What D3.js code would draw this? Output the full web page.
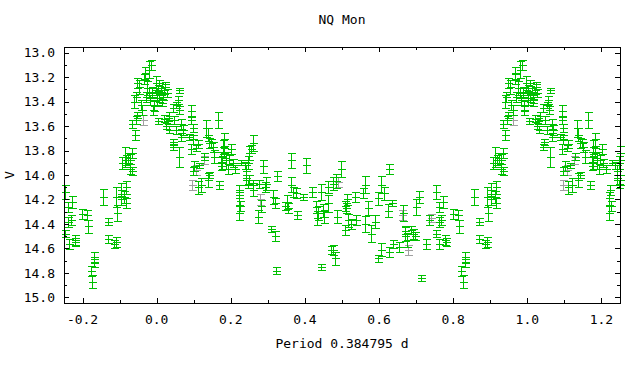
<!DOCTYPE html>
<html>
<head>
<meta charset="utf-8">
<script src="https://cdn.jsdelivr.net/npm/d3@7/dist/d3.min.js"></script>
<style>
  body { margin: 0; background: #fff; }
  text { font-family: "DejaVu Sans Mono", "Liberation Mono", monospace; font-size: 13px; fill: #000; }
</style>
</head>
<body>
<div class="lightcurve"></div>
<script>

// phase (0..1), V magnitude, error -- green series
var phase = [
  0.003, 0.007, 0.012, 0.016, 0.021, 0.023, 0.007, 0.014, 0.027, 0.061, 0.057, 0.052, 0.059, 0.043, 0.034,
  0.030, 0.025, 0.032, 0.021, 0.048, 0.066, 0.070, 0.052, 0.066, 0.045, 0.043, 0.061, 0.093, 0.093, 0.097,
  0.088, 0.097, 0.111, 0.093, 0.106, 0.102, 0.097, 0.115, 0.111, 0.120, 0.138, 0.142, 0.129, 0.133, 0.138,
  0.142, 0.165, 0.151, 0.156, 0.147, 0.169, 0.178, 0.183, 0.174, 0.174, 0.176, 0.183, 0.187, 0.196, 0.192,
  0.201, 0.205, 0.212, 0.228, 0.241, 0.246, 0.250, 0.255, 0.259, 0.241, 0.246, 0.250, 0.237, 0.223, 0.221,
  0.225, 0.221, 0.259, 0.259, 0.277, 0.286, 0.291, 0.295, 0.282, 0.273, 0.313, 0.318, 0.324, 0.309, 0.320,
  0.322, 0.347, 0.352, 0.354, 0.363, 0.363, 0.367, 0.376, 0.379, 0.394, 0.403, 0.418, 0.430, 0.435, 0.433,
  0.444, 0.448, 0.451, 0.444, 0.462, 0.462, 0.475, 0.484, 0.486, 0.475, 0.480, 0.471, 0.498, 0.507, 0.511,
  0.514, 0.507, 0.516, 0.523, 0.534, 0.538, 0.556, 0.561, 0.570, 0.561, 0.579, 0.588, 0.597, 0.604, 0.613,
  0.604, 0.598, 0.626, 0.624, 0.634, 0.637, 0.628, 0.655, 0.664, 0.669, 0.671, 0.675, 0.687, 0.691, 0.696,
  0.700, 0.709, 0.714, 0.727, 0.734, 0.754, 0.754, 0.761, 0.761, 0.768, 0.763, 0.772, 0.779, 0.781, 0.799,
  0.813, 0.815, 0.822, 0.826, 0.831, 0.831, 0.855, 0.869, 0.869, 0.885, 0.891, 0.893, 0.891, 0.903, 0.903,
  0.912, 0.916, 0.916, 0.914, 0.918, 0.923, 0.929, 0.934, 0.929, 0.934, 0.907, 0.934, 0.941, 0.945, 0.948,
  0.939, 0.943, 0.948, 0.952, 0.957, 0.961, 0.966, 0.968, 0.970, 0.974, 0.979, 0.979, 0.983, 0.988, 0.990,
  0.992, 0.997, 0.001, 0.001, 0.004, 0.985
];
var mag = [
  13.29, 13.25, 13.32, 13.36, 13.31, 13.26, 13.37, 13.41, 13.33, 13.31, 13.39, 13.43, 13.47, 13.45, 13.52,
  13.56, 13.60, 13.63, 13.54, 13.55, 13.58, 13.63, 13.63, 13.69, 13.73, 13.77, 13.85, 13.48, 13.55, 13.62,
  13.69, 13.71, 13.75, 13.79, 13.78, 13.93, 13.97, 13.92, 14.10, 14.08, 14.04, 14.00, 13.85, 13.62, 13.67,
  13.74, 13.55, 13.77, 13.85, 13.74, 14.08, 13.77, 13.82, 13.85, 13.93, 13.90, 13.71, 13.88, 13.88, 13.95,
  13.79, 13.90, 13.95, 13.90, 13.97, 13.90, 13.82, 13.79, 13.74, 14.04, 14.07, 14.04, 13.92, 14.12, 14.19,
  14.25, 14.31, 14.12, 14.08, 14.07, 13.93, 14.10, 14.07, 14.25, 14.34, 14.18, 14.23, 14.01, 14.44, 14.50,
  14.78, 14.25, 14.22, 14.27, 13.88, 14.08, 14.14, 14.15, 14.33, 14.18, 13.92, 14.14, 14.26, 14.31, 14.35,
  14.14, 14.29, 14.34, 14.75, 14.10, 14.23, 14.07, 14.05, 14.34, 14.61, 14.68, 14.61, 13.95, 14.25, 14.27,
  14.20, 14.45, 14.37, 14.40, 14.18, 14.37, 14.15, 14.08, 14.27, 14.40, 14.48, 14.38, 14.19, 14.08, 14.15,
  14.61, 14.68, 13.95, 14.29, 14.23, 14.56, 14.63, 14.59, 14.31, 14.48, 14.46, 14.53, 14.45, 14.48, 14.50,
  14.26, 14.18, 14.84, 14.56, 14.37, 14.14, 14.48, 14.26, 14.38, 14.37, 14.56, 14.22, 14.53, 14.55, 14.32,
  14.33, 14.42, 14.78, 14.87, 14.67, 14.72, 14.18, 14.38, 14.52, 14.56, 14.55, 14.31, 14.18, 14.12, 14.20,
  14.18, 14.10, 14.23, 13.85, 13.88, 13.86, 13.88, 13.82, 13.95, 13.97, 13.90, 13.58, 13.67, 13.55, 13.51,
  13.40, 13.36, 13.25, 13.28, 13.43, 13.47, 13.22, 13.17, 13.36, 13.29, 13.14, 13.33, 13.39, 13.32, 13.47,
  13.44, 13.25, 13.33, 13.39, 13.56, 13.10
];
var err = [
  0.027, 0.022, 0.027, 0.027, 0.027, 0.022, 0.033, 0.027, 0.033, 0.022, 0.033, 0.027, 0.033, 0.033, 0.033,
  0.027, 0.022, 0.027, 0.027, 0.033, 0.041, 0.041, 0.033, 0.033, 0.027, 0.022, 0.082, 0.049, 0.033, 0.033,
  0.027, 0.033, 0.033, 0.041, 0.027, 0.041, 0.033, 0.022, 0.055, 0.055, 0.055, 0.022, 0.027, 0.068, 0.055,
  0.041, 0.068, 0.041, 0.055, 0.033, 0.033, 0.055, 0.041, 0.041, 0.033, 0.055, 0.055, 0.068, 0.041, 0.041,
  0.041, 0.033, 0.033, 0.022, 0.055, 0.055, 0.055, 0.033, 0.068, 0.041, 0.033, 0.041, 0.027, 0.041, 0.055,
  0.041, 0.055, 0.055, 0.041, 0.033, 0.055, 0.041, 0.055, 0.049, 0.055, 0.055, 0.041, 0.041, 0.027, 0.041,
  0.027, 0.033, 0.055, 0.041, 0.060, 0.060, 0.041, 0.041, 0.033, 0.022, 0.060, 0.041, 0.049, 0.055, 0.055,
  0.068, 0.055, 0.055, 0.027, 0.049, 0.068, 0.055, 0.055, 0.055, 0.041, 0.055, 0.033, 0.068, 0.041, 0.041,
  0.041, 0.041, 0.055, 0.041, 0.041, 0.041, 0.041, 0.068, 0.055, 0.068, 0.068, 0.055, 0.055, 0.068, 0.055,
  0.055, 0.027, 0.041, 0.055, 0.027, 0.033, 0.041, 0.041, 0.068, 0.055, 0.041, 0.055, 0.033, 0.041, 0.033,
  0.068, 0.049, 0.022, 0.041, 0.041, 0.060, 0.027, 0.041, 0.041, 0.041, 0.041, 0.049, 0.041, 0.033, 0.041,
  0.041, 0.055, 0.041, 0.055, 0.041, 0.033, 0.068, 0.027, 0.033, 0.033, 0.041, 0.068, 0.082, 0.055, 0.041,
  0.049, 0.055, 0.041, 0.082, 0.041, 0.041, 0.055, 0.041, 0.041, 0.033, 0.049, 0.033, 0.041, 0.033, 0.027,
  0.055, 0.041, 0.041, 0.055, 0.041, 0.041, 0.041, 0.055, 0.041, 0.055, 0.068, 0.041, 0.041, 0.041, 0.041,
  0.041, 0.055, 0.041, 0.041, 0.022, 0.041
];

// second (grey) series
var phase2 = [0.962, 0.107, 0.127, 0.095, 0.278, 0.490, 0.663, 0.677, 0.741];
var mag2   = [13.55, 13.96, 13.88, 14.08, 14.20, 14.06, 14.33, 14.61, 14.35];
var err2   = [0.041, 0.041, 0.033, 0.041, 0.041, 0.041, 0.041, 0.041, 0.033];

var xTicks = [-0.2, 0.0, 0.2, 0.4, 0.6, 0.8, 1.0, 1.2];
var yTicks = [13.0, 13.2, 13.4, 13.6, 13.8, 14.0, 14.2, 14.4, 14.6, 14.8, 15.0];

var W = 640, H = 384,
    margin = {top: 47, right: 20, bottom: 81, left: 64};
var width = W - margin.left - margin.right,
    height = H - margin.top - margin.bottom;

var x = d3.scaleLinear().domain([-0.25, 1.25]).range([0, width]);
var y = d3.scaleLinear().domain([12.955, 15.045]).range([0, height]);

var svg = d3.select('div.lightcurve').append('svg')
    .attr('width', W)
    .attr('height', H);

var g = svg.append('g')
    .attr('transform', 'translate(' + margin.left + ',' + margin.top + ')');

// fold: show each point again one cycle earlier / later while inside the window
function fold(ph, m, e) {
  var out = [];
  for (var i = 0; i < ph.length; i++) {
    [-1, 0, 1].forEach(function(k) {
      var p = ph[i] + k;
      if (p >= -0.25 && p <= 1.25) out.push({p: p, m: m[i], e: e[i]});
    });
  }
  return out;
}

function px(v) { return Math.round(v) + 0.5; }

function drawBars(data, colour) {
  var bars = g.append('g')
      .attr('stroke', colour)
      .attr('stroke-width', 1)
      .attr('shape-rendering', 'crispEdges')
      .selectAll('g')
      .data(data)
      .enter().append('g');

  bars.append('line')
      .attr('x1', function(d) { return px(x(d.p)); })
      .attr('x2', function(d) { return px(x(d.p)); })
      .attr('y1', function(d) { return px(y(d.m - d.e)); })
      .attr('y2', function(d) { return px(y(d.m + d.e)); });

  [-1, 0, 1].forEach(function(s) {
    bars.append('line')
        .attr('x1', function(d) { return px(x(d.p)) - 4; })
        .attr('x2', function(d) { return px(x(d.p)) + 4; })
        .attr('y1', function(d) { return px(y(d.m + s * d.e)); })
        .attr('y2', function(d) { return px(y(d.m + s * d.e)); });
  });
}

drawBars(fold(phase2, mag2, err2), '#a0a0a0');
drawBars(fold(phase, mag, err), '#00c000');

// frame
g.append('rect')
    .attr('x', 0.5).attr('y', 0.5)
    .attr('width', width).attr('height', height)
    .attr('fill', 'none')
    .attr('stroke', '#000')
    .attr('shape-rendering', 'crispEdges');

// ticks on all four sides, pointing inward
var ticks = g.append('g').attr('stroke', '#000').attr('shape-rendering', 'crispEdges');
d3.range(-2, 13).forEach(function(i) {
  var v = i / 10, len = (i % 2 === 0) ? 5 : 3, xx = px(x(v));
  ticks.append('line').attr('x1', xx).attr('x2', xx).attr('y1', height).attr('y2', height - len);
  ticks.append('line').attr('x1', xx).attr('x2', xx).attr('y1', 0).attr('y2', len);
});
d3.range(130, 151).forEach(function(i) {
  var v = i / 10, len = (i % 2 === 0) ? 5 : 3, yy = px(y(v));
  ticks.append('line').attr('x1', 0).attr('x2', len).attr('y1', yy).attr('y2', yy);
  ticks.append('line').attr('x1', width).attr('x2', width - len).attr('y1', yy).attr('y2', yy);
});

g.selectAll('text.xt')
    .data(xTicks)
    .enter().append('text')
    .attr('class', 'xt')
    .attr('x', function(d) { return x(d); })
    .attr('y', height + 21)
    .attr('text-anchor', 'middle')
    .text(function(d) { return d3.format('.1f')(d).replace('−', '-'); });

g.selectAll('text.yt')
    .data(yTicks)
    .enter().append('text')
    .attr('class', 'yt')
    .attr('x', -9)
    .attr('y', function(d) { return y(d); })
    .attr('dy', '0.35em')
    .attr('text-anchor', 'end')
    .text(function(d) { return d3.format('.1f')(d); });

svg.append('text')
    .attr('x', margin.left + width / 2)
    .attr('y', 24)
    .attr('text-anchor', 'middle')
    .text('NQ Mon');

svg.append('text')
    .attr('x', margin.left + width / 2)
    .attr('y', 348)
    .attr('text-anchor', 'middle')
    .text('Period 0.384795 d');

svg.append('text')
    .attr('transform', 'translate(14,175) rotate(-90)')
    .attr('text-anchor', 'middle')
    .text('V');

</script>
</body>
</html>
